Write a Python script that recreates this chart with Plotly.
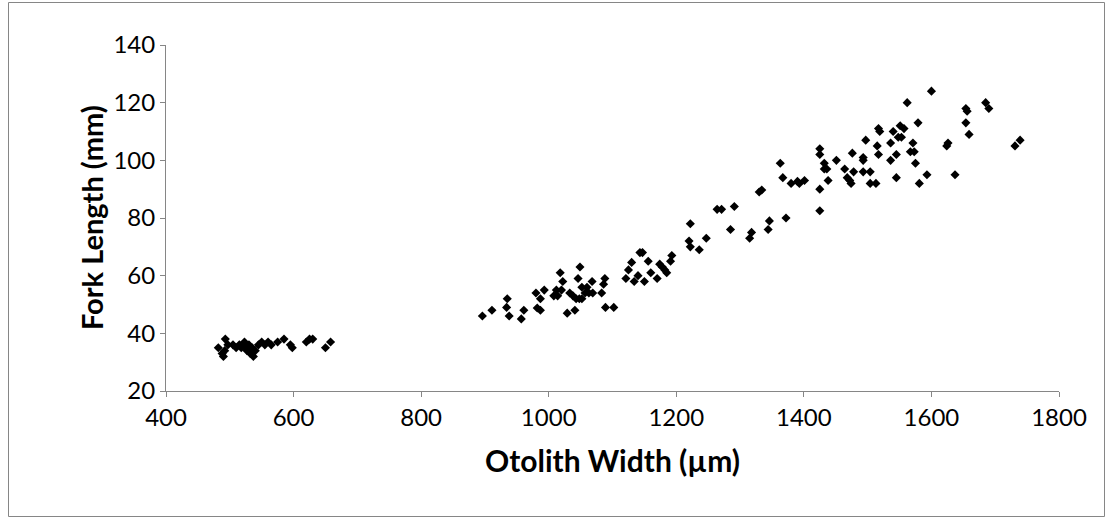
import plotly.graph_objects as go

otolith_width = [
    482, 488, 490, 492, 493, 497, 505, 510, 515, 518, 520, 523, 525, 527, 530, 532,
    535, 537, 540, 545, 550, 555, 560, 565, 575, 585, 595, 598, 620, 625, 630, 650, 658,
    896, 911, 935, 934, 938, 957, 961, 980, 982, 987, 987, 993, 1008, 1012, 1014, 1018,
    1020, 1022, 1029, 1033, 1038, 1041, 1043, 1046, 1048, 1049, 1052, 1052, 1057, 1060,
    1063, 1068, 1069, 1083, 1086, 1088, 1089, 1102, 1121, 1125, 1130, 1134, 1140, 1143,
    1147, 1150, 1156, 1160, 1170, 1174, 1178, 1182, 1185, 1191, 1193,
    1222, 1220, 1222, 1236, 1247, 1264, 1271, 1285, 1291, 1315, 1318, 1330, 1334, 1344,
    1346, 1363, 1367, 1372, 1380, 1390, 1393, 1401, 1425, 1425, 1425, 1425, 1432, 1432,
    1436, 1438, 1451, 1464, 1468, 1472, 1474, 1476, 1478, 1493, 1493, 1493, 1497, 1504,
    1504, 1513, 1515, 1517, 1519, 1517, 1536, 1536, 1540, 1545, 1545, 1548, 1551, 1553,
    1557, 1562, 1567, 1571, 1573, 1575, 1579, 1581, 1593, 1600, 1624, 1626, 1637, 1654,
    1654, 1656, 1659, 1685, 1690, 1731, 1739,
]
fork_length = [
    35, 33, 32, 34, 38, 36, 36, 35, 36, 35, 36, 37, 35, 34, 36, 33,
    35, 32, 34, 36, 37, 36, 37, 36, 37, 38, 36, 35, 37, 38, 38, 35, 37,
    46, 48, 52, 49, 46, 45, 48, 54, 48.8, 48, 52, 55, 53, 55, 53, 61,
    55, 58, 47, 54, 53, 48, 52, 59, 52, 63, 52, 56, 54, 56,
    54, 58, 54, 54, 57, 59, 49, 49, 59, 62, 64.6, 58, 60, 68,
    68, 58, 65, 61, 59, 64, 63, 62, 61, 65, 67,
    78, 72, 70, 69, 73, 83, 83, 76, 84, 73, 75, 89, 89.7, 76,
    79, 99, 94, 80, 92, 92.7, 92, 93, 104, 102, 90, 82.5, 99, 97,
    97, 93, 100, 97, 94, 93, 92, 102.5, 96, 101, 100, 96, 107, 92,
    96, 92, 105, 111, 110, 102, 106, 100, 110, 102, 94, 108, 112, 108,
    111, 120, 103, 106, 103, 99, 113, 92, 95, 124, 105, 106, 95, 113,
    118, 117, 109, 120, 118, 105, 107,
]

x_ticks = [400, 600, 800, 1000, 1200, 1400, 1600, 1800]
y_ticks = [20, 40, 60, 80, 100, 120, 140]
x_title = "Otolith Width (µm)"
y_title = "Fork Length (mm)"

FONT = "Lato, Carlito, Calibri, sans-serif"
AXIS_GRAY = "#868686"

fig = go.Figure()
fig.add_trace(go.Scatter(
    x=otolith_width, y=fork_length, mode="markers",
    marker=dict(symbol="diamond", size=7, color="#000000", line=dict(width=0)),
    showlegend=False, hoverinfo="x+y",
))

W, H = 1110, 523
ml, mr, mt, mb = 166, 51, 45, 132
pw, ph = W - ml - mr, H - mt - mb

def px_to_paper_x(px):
    return (px - ml) / pw

def px_to_paper_y(py):
    return (H - mb - py) / ph

fig.update_layout(
    width=W, height=H,
    margin=dict(l=ml, r=mr, t=mt, b=mb, pad=0),
    paper_bgcolor="white", plot_bgcolor="white",
    font=dict(family=FONT, size=26, color="#000000"),
    xaxis=dict(
        range=[400, 1800], tickvals=x_ticks, ticktext=[str(v) for v in x_ticks],
        showgrid=False, zeroline=False, showline=True, linecolor=AXIS_GRAY, linewidth=1,
        ticks="outside", ticklen=5, tickcolor=AXIS_GRAY, tickwidth=1,
        tickfont=dict(family=FONT, size=24),
        title=dict(text=f"<b>{x_title}</b>", font=dict(family=FONT, size=30), standoff=21),
    ),
    yaxis=dict(
        range=[20, 140], tickvals=y_ticks, ticktext=[str(v) for v in y_ticks],
        showgrid=False, zeroline=False, showline=True, linecolor=AXIS_GRAY, linewidth=1,
        ticks="outside", ticklen=5, tickcolor=AXIS_GRAY, tickwidth=1,
        tickfont=dict(family=FONT, size=24),
    ),
    annotations=[dict(
        text=f"<b>{y_title}</b>", textangle=-90, showarrow=False,
        xref="paper", yref="paper",
        x=px_to_paper_x(91), y=px_to_paper_y(218),
        xanchor="center", yanchor="middle",
        font=dict(family=FONT, size=29, color="#000000"),
    )],
    shapes=[dict(
        type="rect", xref="paper", yref="paper",
        x0=px_to_paper_x(8.5), x1=px_to_paper_x(1104.5),
        y0=px_to_paper_y(516.5), y1=px_to_paper_y(2.5),
        line=dict(color=AXIS_GRAY, width=1), fillcolor="rgba(0,0,0,0)", layer="below",
    )],
)

fig.write_html("out.html")
